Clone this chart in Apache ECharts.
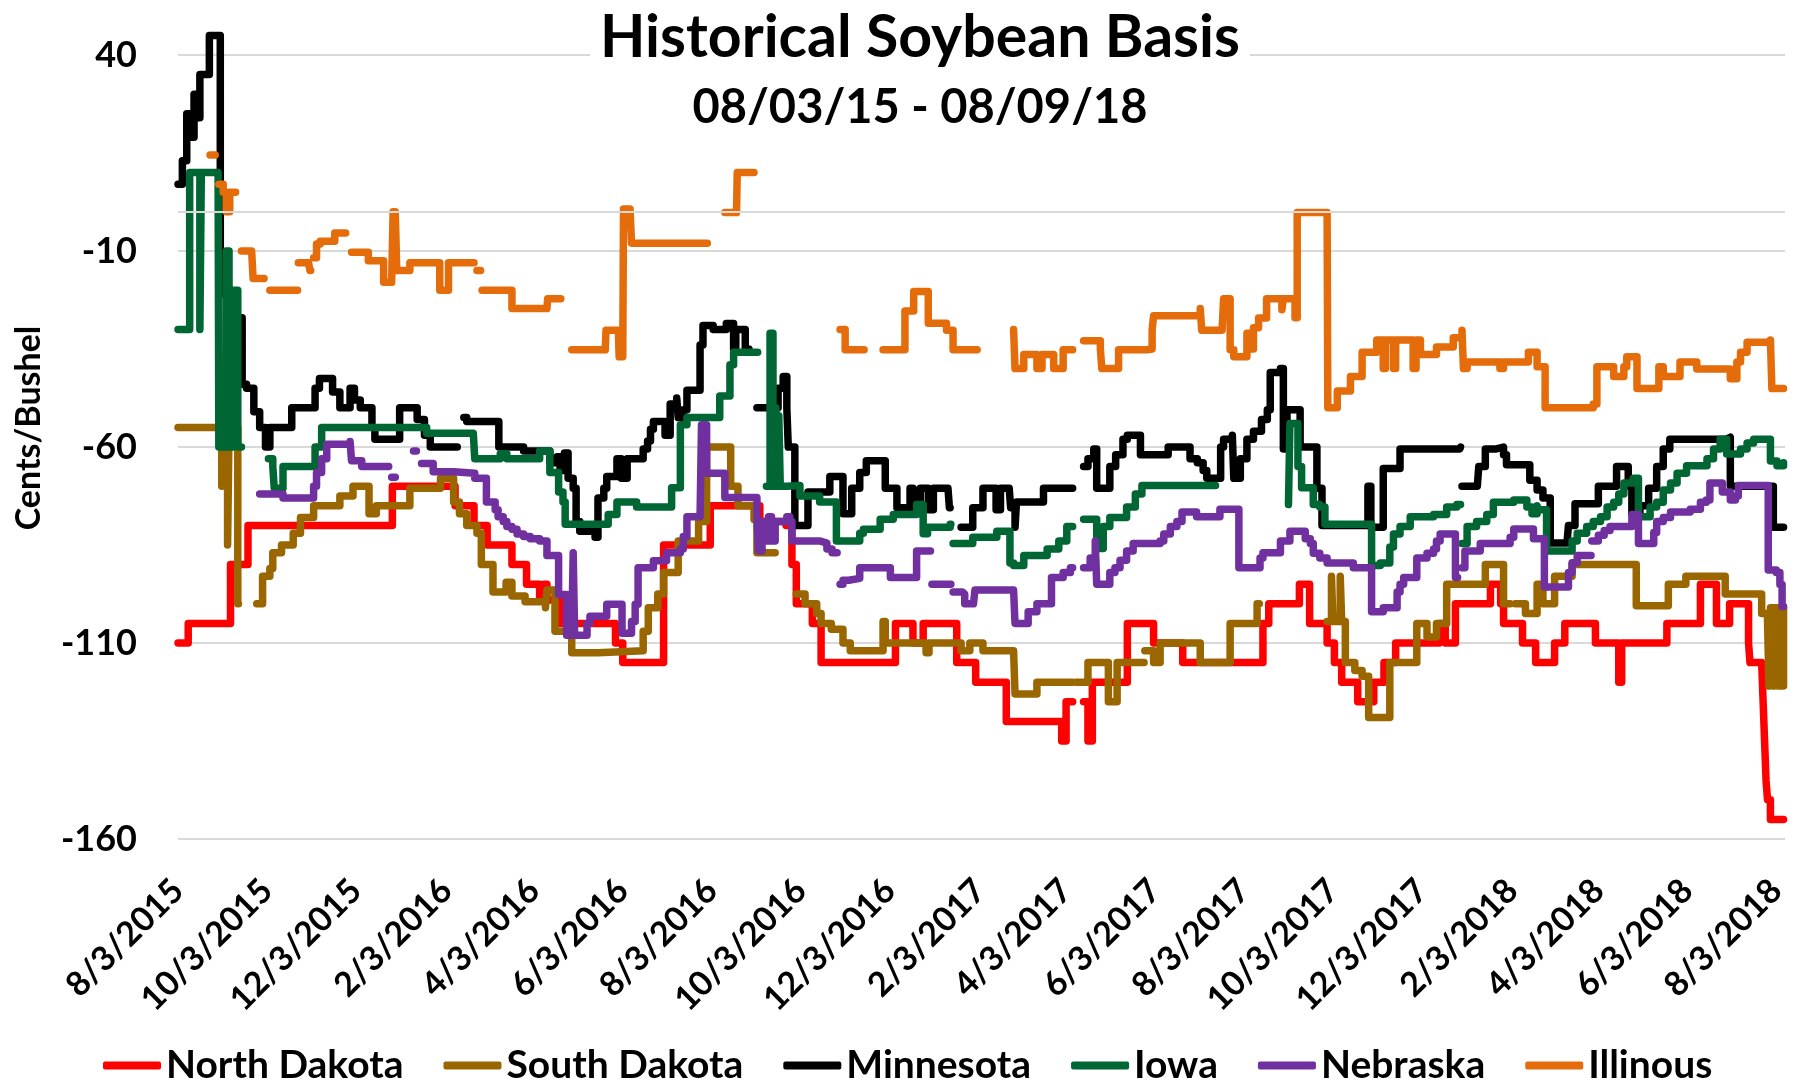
<!DOCTYPE html>
<html>
<head>
<meta charset="utf-8">
<title>Historical Soybean Basis</title>
<script src="https://cdn.jsdelivr.net/npm/echarts@6/dist/echarts.min.js"></script>
<style>
  html, body { margin: 0; padding: 0; background: #fff; }
  #chart { width: 1794px; height: 1081px; }
</style>
</head>
<body>
<div id="chart"></div>
<script>
// x = days since 8/3/2015, y = basis in cents/bushel, null = no quote that day (gap in line)
const startDate = Date.UTC(2015, 7, 3);
const endDay = 1102; // 8/9/2018
const DAY = 86400000;

const tickLabels = ['8/3/2015', '10/3/2015', '12/3/2015', '2/3/2016', '4/3/2016', '6/3/2016',
  '8/3/2016', '10/3/2016', '12/3/2016', '2/3/2017', '4/3/2017', '6/3/2017', '8/3/2017',
  '10/3/2017', '12/3/2017', '2/3/2018', '4/3/2018', '6/3/2018', '8/3/2018'];

const stateNames = ['North Dakota', 'South Dakota', 'Minnesota', 'Iowa', 'Nebraska', 'Illinous'];
const stateColors = ['#FF0000', '#996600', '#000000', '#006633', '#7030A0', '#E46C0A'];

const northDakota = [
  [0,-110],[7,-105],[36,-90],[48,-80],[147,-70],[190,-75],[203,-80],[212,-85],[229,-90],[239,-95],
  [248,-99],[251,-95],[253,-99],[262,-105],[300,-110],[305,-115],[333,-85],[365,-75],[399,-79],[417,-80],
  [421,-90],[424,-100],[435,-105],[441,-115],[492,-105],[504,-110],[511,-105],[534,-115],[547,-120],[568,-130],
  [606,-135],[609,-125],[613,-125],[613.5,null],[621,-125],[624,-135],[627,-120],[651,-105],[669,-110],[689,-115],
  [744,-105],[748,-100],[769,-95],[776,-105],[788,-110],[793,-115],[798,-120],[809,-125],[820,-120],[827,-115],
  [835,-110],[865,-105],[869,-110],[876,-100],[900,-95],[907,-100],[909,-105],[922,-110],[931,-115],[944,-110],
  [951,-105],[972,-110],[988,-120],[990,-110],[1021,-105],[1044,-95],[1055,-105],[1064,-100],[1077,-110],[1078,-115],
  [1086,-115],[1087,-125],[1088,-135],[1089,-145],[1090,-150],[1092,-155],[1101,-155]
];

const southDakota = [
  [0,-55],[30,-70],[31,-55],[34,-85],[35,-55],[41,-100],[41.5,null],
  [54,-100],[58,-93],[63,-91],[65,-87],[71,-85],[79,-82],[84,-78],[93,-75],[111,-72.5],[120,-70],[131,-77],
  [136,-75],[159,-70.5],[180,-68],[189,-74],[193,-77],[198,-80],[205,-82],[208,-90],[216,-97],[225,-94.5],
  [229,-98],[238,-99.5],[252,-101],[253,-96.5],[258.5,-107],[270,-112.5],[288,-112],[319,-107],[322.5,-101],
  [329,-97.5],[333,-92],[343,-84],[357,-79],[362.5,-60],[379,-70],[384,-75],[395,-78.5],[397,-87],[409,-87],[409.5,null],
  [424,-97.5],[430,-100],[438,-102.5],[441,-105],[448,-106.5],[456,-110],[461,-112],[483.5,-104.5],[485,-110],
  [513,-112.5],[515,-110],[537,-112],[543,-110],[552,-112],[573,-112],[574,-123],[589,-120],[613,-120],[613.5,null],
  [616,-120],[624,-115],[638,-125],[644,-115],[662,-115],[662.5,null],[663,-112],[669,-115],[673.5,-110],
  [701,-115],[721.5,-105],[740,-100],[741,-100],[741.5,null],
  [788,-104.5],[791,-93],[792,-104.5],[797,-93],[798,-104.5],[800.5,-115],[807,-117],[812,-118.5],[816.5,-129],
  [831,-115],[849.5,-105],[856.5,-108.5],[863,-105],[870,-95],[896.5,-90],[909,-100],[913,-100],[913.5,null],
  [917,-100],[924,-102.5],[932,-95],[936,-100],[944,-93],[956,-90],[1000,-100.5],[1022,-95],[1034,-93],
  [1061,-97.5],[1086,-102.5],[1090,-104],[1091,-121],[1092,-101],[1094,-121],[1095,-101],[1097,-121],
  [1098,-103],[1099,-121],[1100,-121],[1101,-101]
];

const minnesota = [
  [0,7],[3,13],[6,25],[8,19],[11,30],[13.5,24],[15,35],[21.5,45],[29,-21],[40,-27],[44,-44],[47,-45],
  [52,-51],[56,-55],[60,-60],[63,-55],[78,-50],[94,-45],[97,-42.5],[106,-46],[111,-50],[118,-45],[121,-48],
  [125,-50],[133,-55],[135,-58],[152,-50],[164,-53],[169,-57],[173,-60],[191,-60],[191.5,null],
  [196,-52.5],[198,-53.5],[220,-60],[237,-61],[255,-64],[260,-62.5],[262,-66],[265,-61.5],[267.5,-68],
  [271,-70.5],[273,-79],[275.5,-81.5],[286,-83],[288,-73],[292,-70.5],[294,-67.5],[301,-63],[304,-68],
  [308,-63],[319,-60.5],[322,-58.5],[324,-55.5],[326,-53.5],[334,-57],[337.5,-49],[342,-47.5],[343,-52.5],
  [346.5,-50.5],[349,-45.5],[358,-34],[360,-29],[367,-30],[376,-28.5],[381,-35],[382.5,-30],[389,-35],
  [391,-35],[391.5,null],
  [397,-50],[411.5,-45],[415,-42],[417.5,-50],[418.5,-60],[423,-80],[432,-71.5],[447,-67.5],[456,-77],
  [462,-70.5],[467.5,-66.5],[472,-63.5],[485,-70.5],[493,-75.5],[498.5,-77],[502,-70.5],[504,-75.5],
  [509,-70.5],[514.5,-76],[518,-70.5],[528,-70.5],[529,-75.5],[529.5,null],
  [537,-80.5],[545,-75.5],[552,-70.5],[561,-76],[564,-70.5],[570,-70.5],[571,-75.5],[574,-80.5],[575,-74],
  [593.5,-70.5],[613,-70.5],[613.5,null],
  [621,-65],[624,-63],[628,-60.5],[630,-70.5],[639,-65],[643,-62],[648,-58],[651,-57],[660,-62],[679,-60],
  [694,-63],[699,-64],[703,-66],[705.5,-68],[715,-60],[717,-58],[723,-57],[724,-68],[728.5,-63],[733,-58],
  [737.5,-56],[743,-53],[747,-50.5],[749,-41],[756,-40],[758,-60.5],[760.5,-50.5],[769.5,-60],[781,-70.5],
  [784.5,-80],[813,-80],[816,-70],[818,-80.5],[826.5,-65.5],[838,-60.5],[879,-60],[879.5,null],
  [880.5,-70],[891,-70],[892,-65],[896.5,-60.5],[904,-60],[909,-62],[911,-64.5],[927,-68.5],[932,-71],
  [936,-73],[941,-84.5],[952.5,-84.5],[953.5,-80],[958,-74.5],[974,-70],[986.5,-65],[994.5,-70],[997,-77],
  [1002.5,-75],[1008.5,-70.5],[1014,-65],[1018.5,-60.5],[1023,-58],[1062,-57.5],[1064.5,-70],[1094,-80.5],
  [1101,-80.5]
];

const iowa = [
  [0,-30],[8,10],[15,-30],[16,10],[27.5,10],[28,-60],[33,-10],[35,-60],[38,-20],[41,-60],[43,-60],[43.5,null],
  [62,-63],[65,-65],[66,-70.5],[72,-65],[94,-60],[98.5,-55],[170.5,-56.5],[202.5,-56.8],[203.5,-63],
  [221,-61.7],[225.5,-63],[248,-61],[255,-66.5],[261,-71.5],[264,-74],[265.5,-79.7],[295,-77.2],[301,-74],
  [314.5,-75.3],[338.5,-70.4],[344.5,-54.3],[349,-52.5],[371.5,-47],[378.5,-39],[381,-35.8],[397,-35.8],[397.5,null],
  [403.5,-70],[406,-31],[408,-70],[410,-50],[411,-70],[412,-52],[413,-70],[417.5,-69.8],[426.5,-72.5],
  [440,-74],[451.5,-84],[467.5,-82],[470,-81],[481.5,-78.4],[490.5,-77.2],[506.5,-74.7],[511,-82.1],
  [514,-80.5],[529.5,-79.7],[530,null],
  [531.5,-84.6],[545,-83],[561.5,-81.5],[570.5,-89.6],[573,-90.2],[580,-87.7],[596,-86],[604,-84],
  [609.5,-80.3],[613,-80.3],[613.5,null],
  [621,-78.4],[630,-85.9],[634.5,-80.3],[639,-78],[650.5,-75.3],[656.5,-72],[661,-69.8],[711,-69.8],[711.5,null],
  [761.5,-74.7],[762.5,-54],[766,-54],[768,-65],[770.5,-70.4],[778.5,-74.7],[783,-75.3],[786.5,-79.7],
  [815,-79.7],[818.5,-90.2],[824.5,-89.6],[831,-85.5],[833.5,-82.2],[838,-80.3],[845,-77.8],[861,-77.2],
  [870,-75.3],[877,-74.7],[879,-74.7],[879.5,null],
  [880.5,-84.6],[884,-80.3],[890.5,-79],[897.5,-77.2],[902,-74.1],[916,-73.5],[925,-75.3],[928.5,-77],
  [932,-75],[933,-76],[938.5,-86.5],[956,-84],[959.5,-82],[966,-80.3],[970.5,-79],[975.5,-77.8],[980,-75.3],
  [984.5,-74.1],[988,-72],[991.5,-69.2],[998,-68],[1001.5,-77.8],[1009.5,-75.3],[1014,-74.1],[1018.5,-71],
  [1023.5,-69.2],[1028,-66.7],[1034.5,-64.8],[1048.5,-63],[1053,-60.5],[1057.5,-58],[1062,-61.8],
  [1071.5,-60.5],[1076,-59],[1080.5,-58],[1089.5,-58],[1092,-63.6],[1096.5,-64.8],[1101,-64]
];

const nebraska = [
  [56,-72],[72,-73],[90.5,-73],[93,-70],[95,-66.5],[98.5,-63],[102,-59.3],[118,-58.6],[119,-63.5],
  [126,-65],[144,-65],[144.5,null],[146.5,-67.7],[148.5,-67.7],[149,null],[161.5,-61],[163,-61],[163.5,null],
  [167,-64.2],[175,-66.3],[189,-66.7],[203.5,-68],[211.5,-74],[217.5,-76],[219.5,-77.8],[223,-79],
  [225.5,-80.3],[229,-81],[232.5,-82.2],[237,-82.8],[241.5,-83.4],[248,-84],[253,-87.7],[261,-97.6],
  [266.5,-108],[270,-108],[271,-87],[272,-108],[280.5,-105],[282.5,-103.2],[294,-100.1],[304.5,-107.5],
  [311,-104.5],[313.5,-100.1],[315.5,-90.8],[326,-89],[335,-87],[344.5,-86],[346.5,-82.8],[349,-77.8],
  [358,-77.8],[359,-54.3],[361,-54.3],[362.5,-66.7],[375,-72.9],[394.5,-72.9],[397,-77.8],[398,-86.5],
  [400.5,-79],[402,-84],[405,-77.8],[407,-84],[409.5,-79],[417.5,-77.8],[419.5,-79],[421,-84],[440.5,-84.5],
  [445,-86],[448.5,-87],[451.5,-87],[452,null],
  [454,-95],[456,-94],[460,-93.5],[467.5,-90.8],[483.5,-90.8],[488.5,-93.3],[504.5,-93.3],[506.5,-86.5],
  [515.5,-86.5],[516,null],[517,-95],[529.5,-95],[530,null],
  [531.5,-97],[538,-97.5],[539.5,-100],[545.5,-100],[546.5,-96.5],[573,-97],[574,-105],[583,-102],[589,-100],
  [599,-93.3],[607,-92],[612,-90.8],[613,-90.8],[613.5,null],
  [621,-90.8],[625.5,-88.3],[629,-84],[630,-95],[639,-92],[642.5,-90.8],[646,-88.9],[650.5,-86.5],
  [655,-84.6],[673.5,-84],[676,-82.2],[680.5,-80.3],[685,-79],[688.5,-76.6],[698.5,-77.8],[714.5,-75.9],
  [727.5,-90.8],[742,-88.3],[744,-87],[756,-84],[762.5,-81.5],[773,-83.4],[776.5,-84.6],[778.5,-87.1],
  [783,-88.3],[788,-89.6],[806,-90.8],[818.5,-102],[826.5,-101],[836,-97],[838,-95],[840.5,-93.3],
  [849.5,-88.3],[856.5,-87.1],[861,-86],[863,-84],[865.5,-82.2],[876,-93.3],[877,-93.3],[877.5,null],
  [880.5,-90.8],[882.5,-86.5],[893,-84.6],[913.5,-83],[916,-80.9],[929.5,-83.4],[937,-95.7],[953.5,-92],
  [956,-89.5],[959.5,-87.7],[968.5,-87.7],[969,null],
  [969.5,-84],[974,-82.5],[978,-81.3],[982,-80.3],[997,-77.2],[1001.5,-84.6],[1012,-81.8],[1014,-79],
  [1018.5,-78],[1023.5,-76.6],[1037,-75.9],[1044,-74.1],[1048,-73.5],[1050.5,-69.2],[1059,-71.5],
  [1064.5,-73.5],[1068,-72.5],[1070,-69.8],[1090.5,-91.4],[1096,-92],[1098.5,-95.1],[1100,-100.7],[1101,-100.7]
];

const illinois = [
  [22,14.5],[25,14.5],[25.5,null],[28,7],[31,5],[33,0],[35.5,5],[39,5],[39.5,null],
  [43.5,-10],[50.5,-10],[51.5,-17],[58.5,-17],[59,null],[63,-20],[81.5,-20],[82,null],
  [82.5,-13],[89.5,-13],[90.5,-15],[91,null],[93,-11.7],[95,-8.2],[97.5,-7.5],[107.5,-5.4],[114.5,-5.4],[115,null],
  [119,-10.3],[128,-10.3],[130.5,-12.5],[141,-18],[146.5,-18],[147.5,0],[149,0],[150,-15],[159,-13],
  [177.5,-13],[179.5,-20],[184,-20],[185.5,-13],[202.5,-13],[203,null],[205,-15],[207,-15],[207.5,null],
  [208.5,-20],[225.5,-20],[229,-24.7],[253,-24.7],[253.5,-22.2],[262,-22.2],[262.5,null],
  [270,-35.2],[293,-35.2],[293.5,-30.2],[302,-30.2],[302.5,-37],[305,-37],[305.5,0.7],[310,0.7],[311,-8],
  [362.5,-8],[363,null],[375,-0.2],[383,-0.2],[383.5,10],[394.5,10],[395,null],
  [454,-30],[457.5,-35.2],[470,-35.2],[470.5,null],
  [483.5,-35.2],[498.5,-25.3],[504.5,-20.3],[514.5,-28.4],[527,-30.2],[531.5,-35.2],[547.5,-35.2],[548,null],
  [573,-30],[574,-40],[580,-36.4],[589,-40],[592.5,-36.4],[600.5,-40],[607,-35.2],[613,-35.2],[613.5,null],
  [621,-32.9],[632.5,-35],[633.5,-40],[645,-35.2],[664.5,-35],[668,-30.2],[669,-26.5],[701,-24.7],
  [702,-30.2],[716,-30.2],[717,-22.2],[720,-22.2],[721.5,-35.2],[724,-37],[733,-31],[735,-35],[737.5,-29.6],
  [741,-27.1],[746.5,-22.2],[757,-25],[758,-22.2],[763,-22.2],[766,-27],[767.5,-0.2],[788,-0.2],[788.5,-50],
  [795,-45.7],[804,-42],[812,-35.8],[822,-32.7],[826.5,-40],[828,-32.7],[833.5,-40],[835,-32.7],[847,-40],
  [849,-32.7],[852,-36.4],[863,-34.5],[874.5,-32.1],[880.5,-30.2],[881.5,-40],[884,-38.3],[906.5,-40],
  [909,-38.3],[926,-35.8],[932,-39.5],[937.5,-50],[970.5,-49],[973,-39.5],[984.5,-42],[991.5,-39.5],
  [993.5,-37],[1000.5,-45.1],[1015.5,-39.5],[1018.5,-42],[1030,-38.3],[1041.5,-40.1],[1064.5,-42.6],
  [1069,-38.3],[1071.5,-35.8],[1076,-33.3],[1092,-32.7],[1093,-45.1],[1101,-45.1]
];

const stateData = [northDakota, southDakota, minnesota, iowa, nebraska, illinois];

function toTime(points) {
  return points.map(function (p) { return [startDate + p[0] * DAY, p[1]]; });
}

function parseLabel(s) {
  const parts = s.split('/');
  return Date.UTC(+parts[2], +parts[0] - 1, +parts[1]);
}

function formatDate(v) {
  const d = new Date(v);
  return (d.getUTCMonth() + 1) + '/' + d.getUTCDate() + '/' + d.getUTCFullYear();
}

const chart = echarts.init(document.getElementById('chart'));

const series = stateData.map(function (pts, i) {
  const s = {
    name: stateNames[i],
    type: 'line',
    step: 'end',
    symbol: 'none',
    showSymbol: false,
    clip: false,
    connectNulls: false,
    color: stateColors[i],
    lineStyle: { width: 7.5, color: stateColors[i], cap: 'round', join: 'round' },
    data: toTime(pts)
  };
  if (i === 0) {
    // horizontal axis crosses at 0
    s.markLine = {
      silent: true,
      symbol: 'none',
      label: { show: false },
      lineStyle: { color: '#D9D9D9', width: 2, type: 'solid' },
      data: [{ yAxis: 0 }]
    };
  }
  return s;
});

chart.setOption({
  animation: false,
  backgroundColor: '#fff',
  title: {
    text: 'Historical Soybean Basis',
    subtext: '08/03/15 - 08/09/18',
    left: 910,
    textAlign: 'center',
    top: 4,
    itemGap: 17,
    padding: [4, 10],
    backgroundColor: '#fff',
    textStyle: { fontFamily: 'Lato', fontWeight: 'bold', fontSize: 59, color: '#000' },
    subtextStyle: { fontFamily: 'Lato', fontWeight: 'bold', fontSize: 47, color: '#000' }
  },
  grid: { left: 178, right: 9, top: 55, bottom: 242, outerBoundsMode: 'none' },
  legend: {
    data: stateNames,
    left: 98,
    top: 1041,
    icon: 'roundRect',
    itemWidth: 58,
    itemHeight: 8,
    itemGap: 40,
    textStyle: { fontFamily: 'Lato', fontWeight: 'bold', fontSize: 39, color: '#000' }
  },
  xAxis: {
    type: 'value',
    min: startDate,
    max: startDate + endDay * DAY,
    axisLine: { show: false },
    axisTick: { show: false },
    splitLine: { show: false },
    axisLabel: {
      customValues: tickLabels.map(parseLabel),
      formatter: formatDate,
      rotate: 45,
      margin: 46,
      hideOverlap: false,
      fontFamily: 'Lato',
      fontWeight: 'bold',
      fontSize: 34,
      color: '#000'
    }
  },
  yAxis: {
    type: 'value',
    min: -160,
    max: 40,
    interval: 50,
    name: 'Cents/Bushel',
    nameLocation: 'middle',
    nameRotate: 90,
    nameGap: 132,
    nameTextStyle: { fontFamily: 'Lato', fontWeight: 'bold', fontSize: 34, color: '#000', padding: [0, 0, 0, 38] },
    axisLine: { show: false },
    axisTick: { show: false },
    splitLine: { lineStyle: { color: '#D9D9D9', width: 2 } },
    axisLabel: { fontFamily: 'Lato', fontWeight: 'bold', fontSize: 36, color: '#000', margin: 41 }
  },
  series: series
});
</script>
</body>
</html>
